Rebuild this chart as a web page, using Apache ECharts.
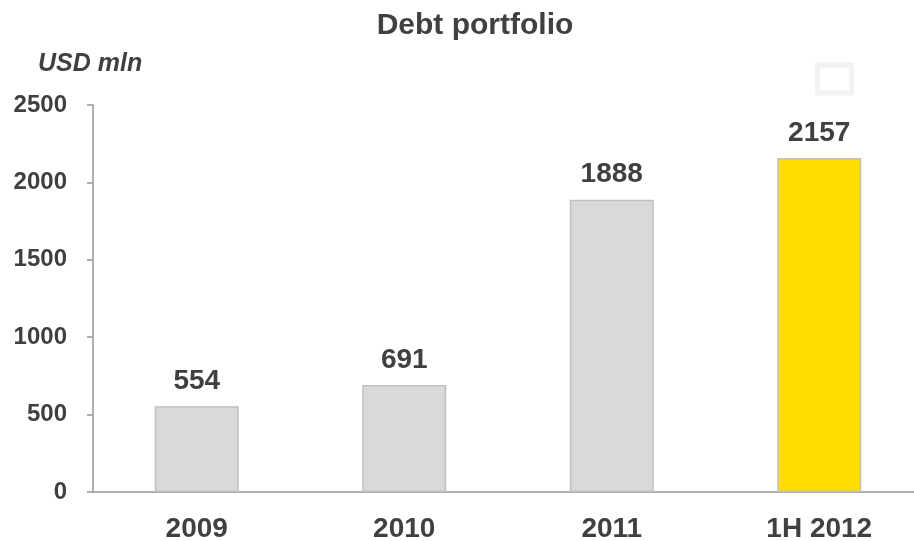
<!DOCTYPE html>
<html><head><meta charset="utf-8">
<script src="https://cdn.jsdelivr.net/npm/echarts@6/dist/echarts.min.js"></script>
<style>html,body{margin:0;padding:0;background:#fff}#c{width:914px;height:541px}</style>
</head><body><div id="c"></div>
<script>
const categories = ['2009', '2010', '2011', '1H 2012'];
const values = [554, 691, 1888, 2157];
const barColors = ['#D9D9D9', '#D9D9D9', '#D9D9D9', '#FFDD00'];
const yTicks = [0, 500, 1000, 1500, 2000, 2500];

const chart = echarts.init(document.getElementById('c'));
const font = 'Liberation Sans, Arial, sans-serif';
chart.setOption({
  animation: false,
  graphic: [
    { type: 'text', style: { text: 'Debt portfolio', x: 475, y: 26, align: 'center', verticalAlign: 'middle', font: 'bold 30px ' + font, fill: '#404040' } },
    { type: 'text', style: { text: 'USD mln', x: 38, y: 64, align: 'left', verticalAlign: 'middle', font: 'italic bold 25px ' + font, fill: '#404040' } },
    { type: 'rect', shape: { x: 817.5, y: 65, width: 34, height: 28 }, style: { fill: 'none', stroke: '#F2F2F2', lineWidth: 5 } }
  ],
  grid: { left: 93, top: 105, bottom: 49, width: 830, outerBoundsMode: 'none', containLabel: false },
  xAxis: {
    type: 'category', data: categories,
    axisLine: { lineStyle: { color: '#969696', width: 1.5 } },
    axisTick: { alignWithLabel: false, length: 8, lineStyle: { color: '#969696', width: 1.5 } },
    axisLabel: { margin: 23, fontFamily: font, fontSize: 28, fontWeight: 'bold', color: '#404040' }
  },
  yAxis: {
    type: 'value', min: yTicks[0], max: yTicks[yTicks.length - 1], interval: 500,
    axisLine: { show: true, lineStyle: { color: '#969696', width: 1.5 } },
    axisTick: { show: true, length: 6, lineStyle: { color: '#969696', width: 1.5 } },
    splitLine: { show: false },
    axisLabel: { margin: 26, fontFamily: font, fontSize: 24, fontWeight: 'bold', color: '#404040', formatter: v => String(v) }
  },
  series: [{
    type: 'bar', barWidth: 84,
    data: values.map((v, i) => ({ value: v, itemStyle: { color: barColors[i] } })),
    itemStyle: { borderColor: '#BFBFBF', borderWidth: 1.5 },
    label: { show: true, position: 'top', distance: 11, fontFamily: font, fontSize: 28, fontWeight: 'bold', color: '#404040' }
  }]
});
</script></body></html>
